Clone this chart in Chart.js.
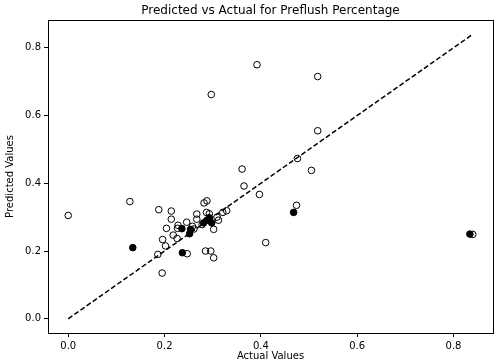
<!DOCTYPE html>
<html>
<head>
<meta charset="utf-8">
<script src="https://cdn.jsdelivr.net/npm/chart.js@4.4.1/dist/chart.umd.min.js"></script>
<style>
    html, body { margin: 0; padding: 0; background: #fff; }
    #wrap { width: 498px; height: 364px; position: relative; }
</style>
</head>
<body>
<div id="wrap"><canvas id="scatter"></canvas></div>
<script>
// open markers: actual / predicted
var openActual = [0.000, 0.128, 0.188, 0.214, 0.214, 0.204, 0.228, 0.227, 0.246, 0.218,
                  0.226, 0.196, 0.202, 0.186, 0.195, 0.247, 0.285, 0.296, 0.302, 0.282,
                  0.288, 0.267, 0.267, 0.258, 0.261, 0.287, 0.293, 0.278, 0.309, 0.312,
                  0.302, 0.321, 0.329, 0.297, 0.392, 0.518, 0.518, 0.361, 0.365, 0.397,
                  0.410, 0.476, 0.505, 0.474, 0.840];
var openPredicted = [0.305, 0.346, 0.322, 0.318, 0.294, 0.267, 0.276, 0.267, 0.285, 0.247,
                     0.237, 0.234, 0.215, 0.190, 0.135, 0.192, 0.200, 0.200, 0.180, 0.342,
                     0.348, 0.309, 0.294, 0.273, 0.265, 0.314, 0.310, 0.278, 0.300, 0.291,
                     0.264, 0.314, 0.319, 0.662, 0.750, 0.715, 0.555, 0.442, 0.392, 0.367,
                     0.225, 0.473, 0.438, 0.335, 0.249];

// filled markers: actual / predicted
var filledActual = [0.134, 0.236, 0.237, 0.254, 0.252, 0.281, 0.288, 0.293, 0.298, 0.468, 0.834];
var filledPredicted = [0.210, 0.266, 0.195, 0.264, 0.251, 0.283, 0.291, 0.298, 0.283, 0.314, 0.250];

var tickValues = [0.0, 0.2, 0.4, 0.6, 0.8];

function toPoints(xs, ys) {
    var out = [];
    for (var i = 0; i < xs.length; i++) out.push({x: xs[i], y: ys[i]});
    return out;
}

// reference line spans the actual values
var allActual = openActual.concat(filledActual);
var lineMin = Math.min.apply(null, allActual);
var lineMax = Math.max.apply(null, allActual);
var pad = (lineMax - lineMin) * 0.05;

var FONT = "'DejaVu Sans', sans-serif";

// frame + title centred over the plot area
var framePlugin = {
    id: 'frame',
    afterDraw: function(chart) {
        var ctx = chart.ctx, a = chart.chartArea;
        ctx.save();
        ctx.strokeStyle = '#000';
        ctx.lineWidth = 1;
        ctx.strokeRect(Math.round(a.left) + 0.5, Math.round(a.top) + 0.5,
                       Math.round(a.right - a.left), Math.round(a.bottom - a.top));
        ctx.fillStyle = '#000';
        ctx.font = '12px ' + FONT;
        ctx.textAlign = 'center';
        ctx.textBaseline = 'middle';
        ctx.fillText('Predicted vs Actual for Preflush Percentage', (a.left + a.right) / 2, 11);
        ctx.restore();
    }
};

function axis(titleText, fitFn, titlePad) {
    return {
        type: 'linear',
        min: lineMin - pad,
        max: lineMax + pad,
        afterBuildTicks: function(s) {
            s.ticks = tickValues.map(function(v) { return {value: v}; });
        },
        afterFit: fitFn,
        grid: { drawOnChartArea: false, drawTicks: true, tickLength: 4, color: '#000' },
        border: { display: true, color: '#000' },
        ticks: {
            color: '#000',
            font: { family: FONT, size: 10 },
            padding: 3,
            callback: function(v) { return Number(v).toFixed(1); }
        },
        title: {
            display: true,
            text: titleText,
            color: '#000',
            font: { family: FONT, size: 10 },
            padding: titlePad
        }
    };
}

new Chart(document.getElementById('scatter').getContext('2d'), {
    type: 'scatter',
    data: {
        datasets: [
            {
                type: 'line',
                data: [{x: lineMin, y: lineMin}, {x: lineMax, y: lineMax}],
                borderColor: '#000',
                borderWidth: 1.5,
                borderDash: [5, 2.5],
                pointRadius: 0,
                fill: false,
                order: 0
            },
            {
                data: toPoints(filledActual, filledPredicted),
                pointRadius: 3.3,
                pointBackgroundColor: '#000',
                pointBorderColor: '#000',
                pointBorderWidth: 1,
                order: 1
            },
            {
                data: toPoints(openActual, openPredicted),
                pointRadius: 3.3,
                pointBackgroundColor: 'rgba(0,0,0,0)',
                pointBorderColor: '#000',
                pointBorderWidth: 1,
                order: 2
            }
        ]
    },
    options: {
        responsive: true,
        maintainAspectRatio: false,
        animation: false,
        layout: { padding: { top: 20, right: 4, left: 0, bottom: 0 } },
        plugins: {
            legend: { display: false },
            tooltip: { enabled: false },
            title: { display: false }
        },
        scales: {
            x: axis('Actual Values', function(s) { s.height = 31; }, { top: 0, bottom: 2 }),
            y: axis('Predicted Values', function(s) { s.width = 48; }, { top: 4, bottom: 0 })
        }
    },
    plugins: [framePlugin]
});
</script>
</body>
</html>
